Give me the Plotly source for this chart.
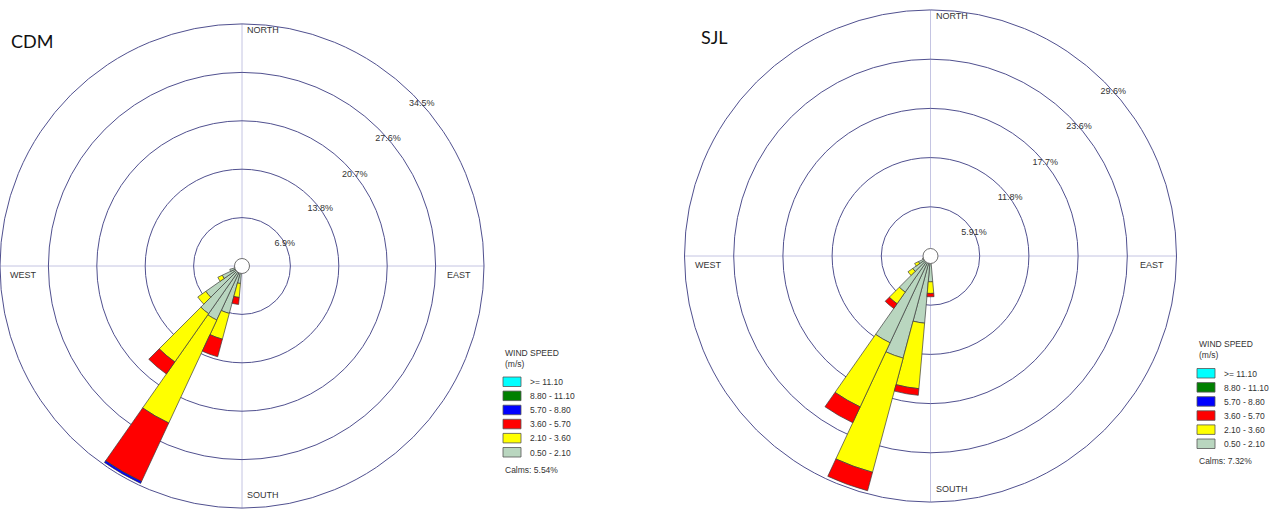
import plotly.graph_objects as go

W, H = 1279, 510

# Wind direction sectors (degrees, 10-degree bins) that carry any frequency
DIRECTIONS = [180, 190, 200, 210, 220, 230, 240, 250, 260, 270, 280]

SPEED_CLASSES = ["0.50 - 2.10", "2.10 - 3.60", "3.60 - 5.70",
                 "5.70 - 8.80", "8.80 - 11.10", ">= 11.10"]

# CDM station: frequency (%) per direction for each wind-speed class
CDM_050_210 = [0.8, 2.5, 7.0, 8.5, 8.3, 6.3, 3.1, 1.8, 1.1, 0.7, 0.4]
CDM_210_360 = [0.0, 2.0, 3.8, 16.2, 8.4, 1.4, 0.7, 0.0, 0.0, 0.0, 0.0]
CDM_360_570 = [0.0, 1.0, 2.6, 9.2, 2.1, 0.0, 0.0, 0.0, 0.0, 0.0, 0.0]
CDM_570_880 = [0.0, 0.0, 0.0, 0.3, 0.0, 0.0, 0.0, 0.0, 0.0, 0.0, 0.0]
CDM_880_1110 = [0.0] * 11
CDM_GE_1110 = [0.0] * 11
CDM_RINGS = [6.9, 13.8, 20.7, 27.6, 34.5]
CDM_RING_LABELS = ["6.9%", "13.8%", "20.7%", "27.6%", "34.5%"]
CDM_CALMS = "Calms: 5.54%"

# SJL station: frequency (%) per direction for each wind-speed class
SJL_050_210 = [3.1, 8.1, 12.7, 11.5, 5.3, 2.6, 1.6, 1.0, 0.6, 0.4, 0.3]
SJL_210_360 = [1.4, 7.9, 14.2, 8.5, 1.7, 0.7, 0.5, 0.0, 0.0, 0.0, 0.0]
SJL_360_570 = [0.4, 0.8, 2.3, 2.1, 0.7, 0.0, 0.0, 0.0, 0.0, 0.0, 0.0]
SJL_570_880 = [0.0] * 11
SJL_880_1110 = [0.0] * 11
SJL_GE_1110 = [0.0] * 11
SJL_RINGS = [5.91, 11.82, 17.73, 23.64, 29.55]
SJL_RING_LABELS = ["5.91%", "11.8%", "17.7%", "23.6%", "29.6%"]
SJL_CALMS = "Calms: 7.32%"

# ---- styling ----
CLASS_COLORS = ["#B9D6BF", "#FFFF00", "#FF0000", "#0000FF", "#008000", "#00FFFF"]
RING = "#50508F"
SPOKE = "#C4C4E2"
OUTLINE = "#3C3C3C"
TEXT = "#333333"
FONT = "Liberation Sans, Arial, sans-serif"
LABEL_THETA = [62, 54, 51, 49, 48]

# rose geometry in pixels: centre x, centre y (from top), outer radius
ROSES = [
    dict(cx=242, cy=266, R=242),
    dict(cx=930.5, cy=256, R=246),
]


def px(x):
    return x / W


def py(y):
    return 1 - y / H


fig = go.Figure()

sites = [
    ("polar", [CDM_050_210, CDM_210_360, CDM_360_570, CDM_570_880, CDM_880_1110, CDM_GE_1110],
     CDM_RINGS, CDM_RING_LABELS),
    ("polar2", [SJL_050_210, SJL_210_360, SJL_360_570, SJL_570_880, SJL_880_1110, SJL_GE_1110],
     SJL_RINGS, SJL_RING_LABELS),
]

for subplot, classes, rings, ring_labels in sites:
    for name, vals, color in zip(SPEED_CLASSES, classes, CLASS_COLORS):
        fig.add_trace(go.Barpolar(
            r=[v if v > 0 else None for v in vals],
            theta=DIRECTIONS,
            width=10,
            name=name,
            marker=dict(color=color, line=dict(color=OUTLINE, width=0.7)),
            subplot=subplot,
            showlegend=False,
            hoverinfo="skip",
        ))
    # ring percentage labels
    fig.add_trace(go.Scatterpolar(
        r=rings, theta=LABEL_THETA, mode="text", text=ring_labels,
        textfont=dict(family=FONT, size=9, color=TEXT),
        textposition="middle center", subplot=subplot,
        showlegend=False, hoverinfo="skip",
    ))
    # calm circle at the centre
    fig.add_trace(go.Scatterpolar(
        r=[0], theta=[0], mode="markers",
        marker=dict(size=15, color="white", line=dict(color="#707070", width=1)),
        subplot=subplot, showlegend=False, hoverinfo="skip",
    ))


def polar_layout(geo, rings):
    cx, cy, R = geo["cx"], geo["cy"], geo["R"]
    return dict(
        domain=dict(x=[px(cx - R), px(cx + R)], y=[py(cy + R), py(cy - R)]),
        bgcolor="white",
        barmode="stack",
        bargap=0,
        radialaxis=dict(range=[0, rings[-1]], tickvals=rings, showticklabels=False,
                        ticks="", showline=False, gridcolor=RING, gridwidth=1,
                        layer="below traces"),
        angularaxis=dict(rotation=90, direction="clockwise", tickvals=[0, 90, 180, 270],
                         showticklabels=False, ticks="", gridcolor=SPOKE, gridwidth=1,
                         showline=True, linecolor=RING, linewidth=1,
                         layer="below traces"),
    )


annotations = []
shapes = []


def add_text(x, y, text, size=9, xanchor="left", family=FONT, color=TEXT):
    annotations.append(dict(
        x=px(x), y=py(y), xref="paper", yref="paper", text=text, showarrow=False,
        xanchor=xanchor, yanchor="middle", font=dict(family=family, size=size, color=color),
    ))


# compass labels
for geo in ROSES:
    cx, cy, R = geo["cx"], geo["cy"], geo["R"]
    add_text(cx + 3, cy - R + 6, "NORTH")
    add_text(cx + 3, cy + R - 13, "SOUTH")
    add_text(cx - R + 8, cy + 9, "WEST")
    add_text(cx + R - 11, cy + 9, "EAST", xanchor="right")

# station titles
add_text(9, 41, "CDM", size=18, family="Lato, Calibri, sans-serif", color="#111111")
add_text(699, 37, "SJL", size=18, family="Lato, Calibri, sans-serif", color="#111111")

# wind-speed legends
LEGENDS = [
    dict(x=503, top=353, box_top=377, calms=CDM_CALMS),
    dict(x=1197, top=344, box_top=368.5, calms=SJL_CALMS),
]
legend_order = list(range(len(SPEED_CLASSES)))[::-1]
for lg in LEGENDS:
    x0 = lg["x"]
    add_text(x0, lg["top"], "WIND SPEED", size=8.5)
    add_text(x0, lg["top"] + 10.5, "(m/s)", size=8.5)
    for row, ci in enumerate(legend_order):
        y0 = lg["box_top"] + row * 14.1
        shapes.append(dict(
            type="rect", xref="paper", yref="paper",
            x0=px(x0), x1=px(x0 + 18), y0=py(y0 + 9.5), y1=py(y0),
            fillcolor=CLASS_COLORS[ci], line=dict(color="#555555", width=0.8),
        ))
        add_text(x0 + 25, y0 + 5, SPEED_CLASSES[ci], size=8.5)
    add_text(x0, lg["box_top"] + 6 * 14.1 + 8, lg["calms"], size=8.5)

fig.update_layout(
    width=W, height=H,
    margin=dict(l=0, r=0, t=0, b=0),
    paper_bgcolor="white",
    plot_bgcolor="white",
    polar=polar_layout(ROSES[0], CDM_RINGS),
    polar2=polar_layout(ROSES[1], SJL_RINGS),
    annotations=annotations,
    shapes=shapes,
    showlegend=False,
)

fig.write_html("out.html")
